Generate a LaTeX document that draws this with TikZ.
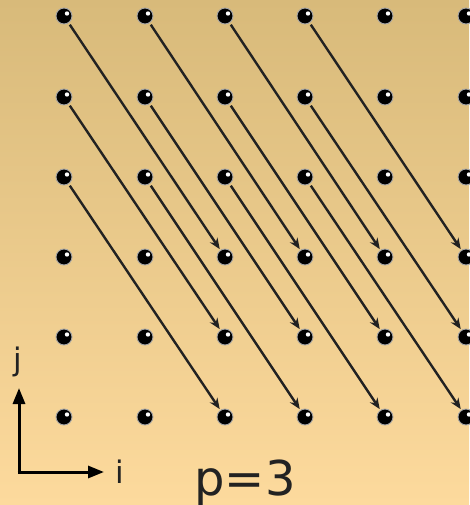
\documentclass[tikz,border=0pt]{standalone}
\usepackage{fontspec}
\setmainfont{DejaVu Sans}
\usetikzlibrary{arrows.meta}
\definecolor{bgtop}{HTML}{D8BA7A}
\definecolor{bgbot}{HTML}{FDDA9D}
\definecolor{ink}{HTML}{222222}
\tikzset{
  dot/.style={circle,fill=black,draw=gray!70,line width=0.9pt,minimum size=16pt,inner sep=0pt,
    path picture={\fill[white] ([xshift=3pt,yshift=2.5pt]path picture bounding box.center) circle (2.2pt);}},
  dep/.style={draw=ink,line width=2.4pt,-{Stealth[length=11pt,width=9pt]},shorten <=2pt,shorten >=1pt},
  axis/.style={draw=black,line width=3pt,-{Triangle[length=16pt,width=12pt]}},
  lbl/.style={text=ink,font=\fontsize{31}{31}\selectfont,inner sep=0pt}
}
\begin{document}
\begin{tikzpicture}[x=1pt,y=-1pt]
\shade[top color=bgtop,bottom color=bgbot] (0,0) rectangle (469,505);
\useasboundingbox (0,0) rectangle (469,505);
\foreach \c/\x in {1/64,2/145,3/225,4/305,5/385,6/466}{
  \foreach \r/\y in {1/16,2/97,3/177,4/257,5/337,6/417}{
    \node[dot] (d-\c-\r) at (\x,\y) {};
  }
}
\foreach \r in {1,2,3}{
  \foreach \c in {1,2,3,4}{
    \pgfmathtruncatemacro{\tc}{\c+2}
    \pgfmathtruncatemacro{\tr}{\r+3}
    \draw[dep] (d-\c-\r) -- (d-\tc-\tr);
  }
}
\coordinate (o) at (19,472);
\coordinate (ie) at (104,472);
\coordinate (je) at (19,388);
\draw[axis] ([xshift=-1.5pt]o) -- (ie);
\draw[axis] ([yshift=-1.5pt]o) -- (je);
\node[lbl,anchor=base] (il) at (120,483) {i};
\node[lbl,anchor=base] (jl) at (18,370) {j};
\node[lbl,anchor=base,font=\fontsize{48}{48}\selectfont] (pl) at (245,495) {p=3};
\end{tikzpicture}
\end{document}
